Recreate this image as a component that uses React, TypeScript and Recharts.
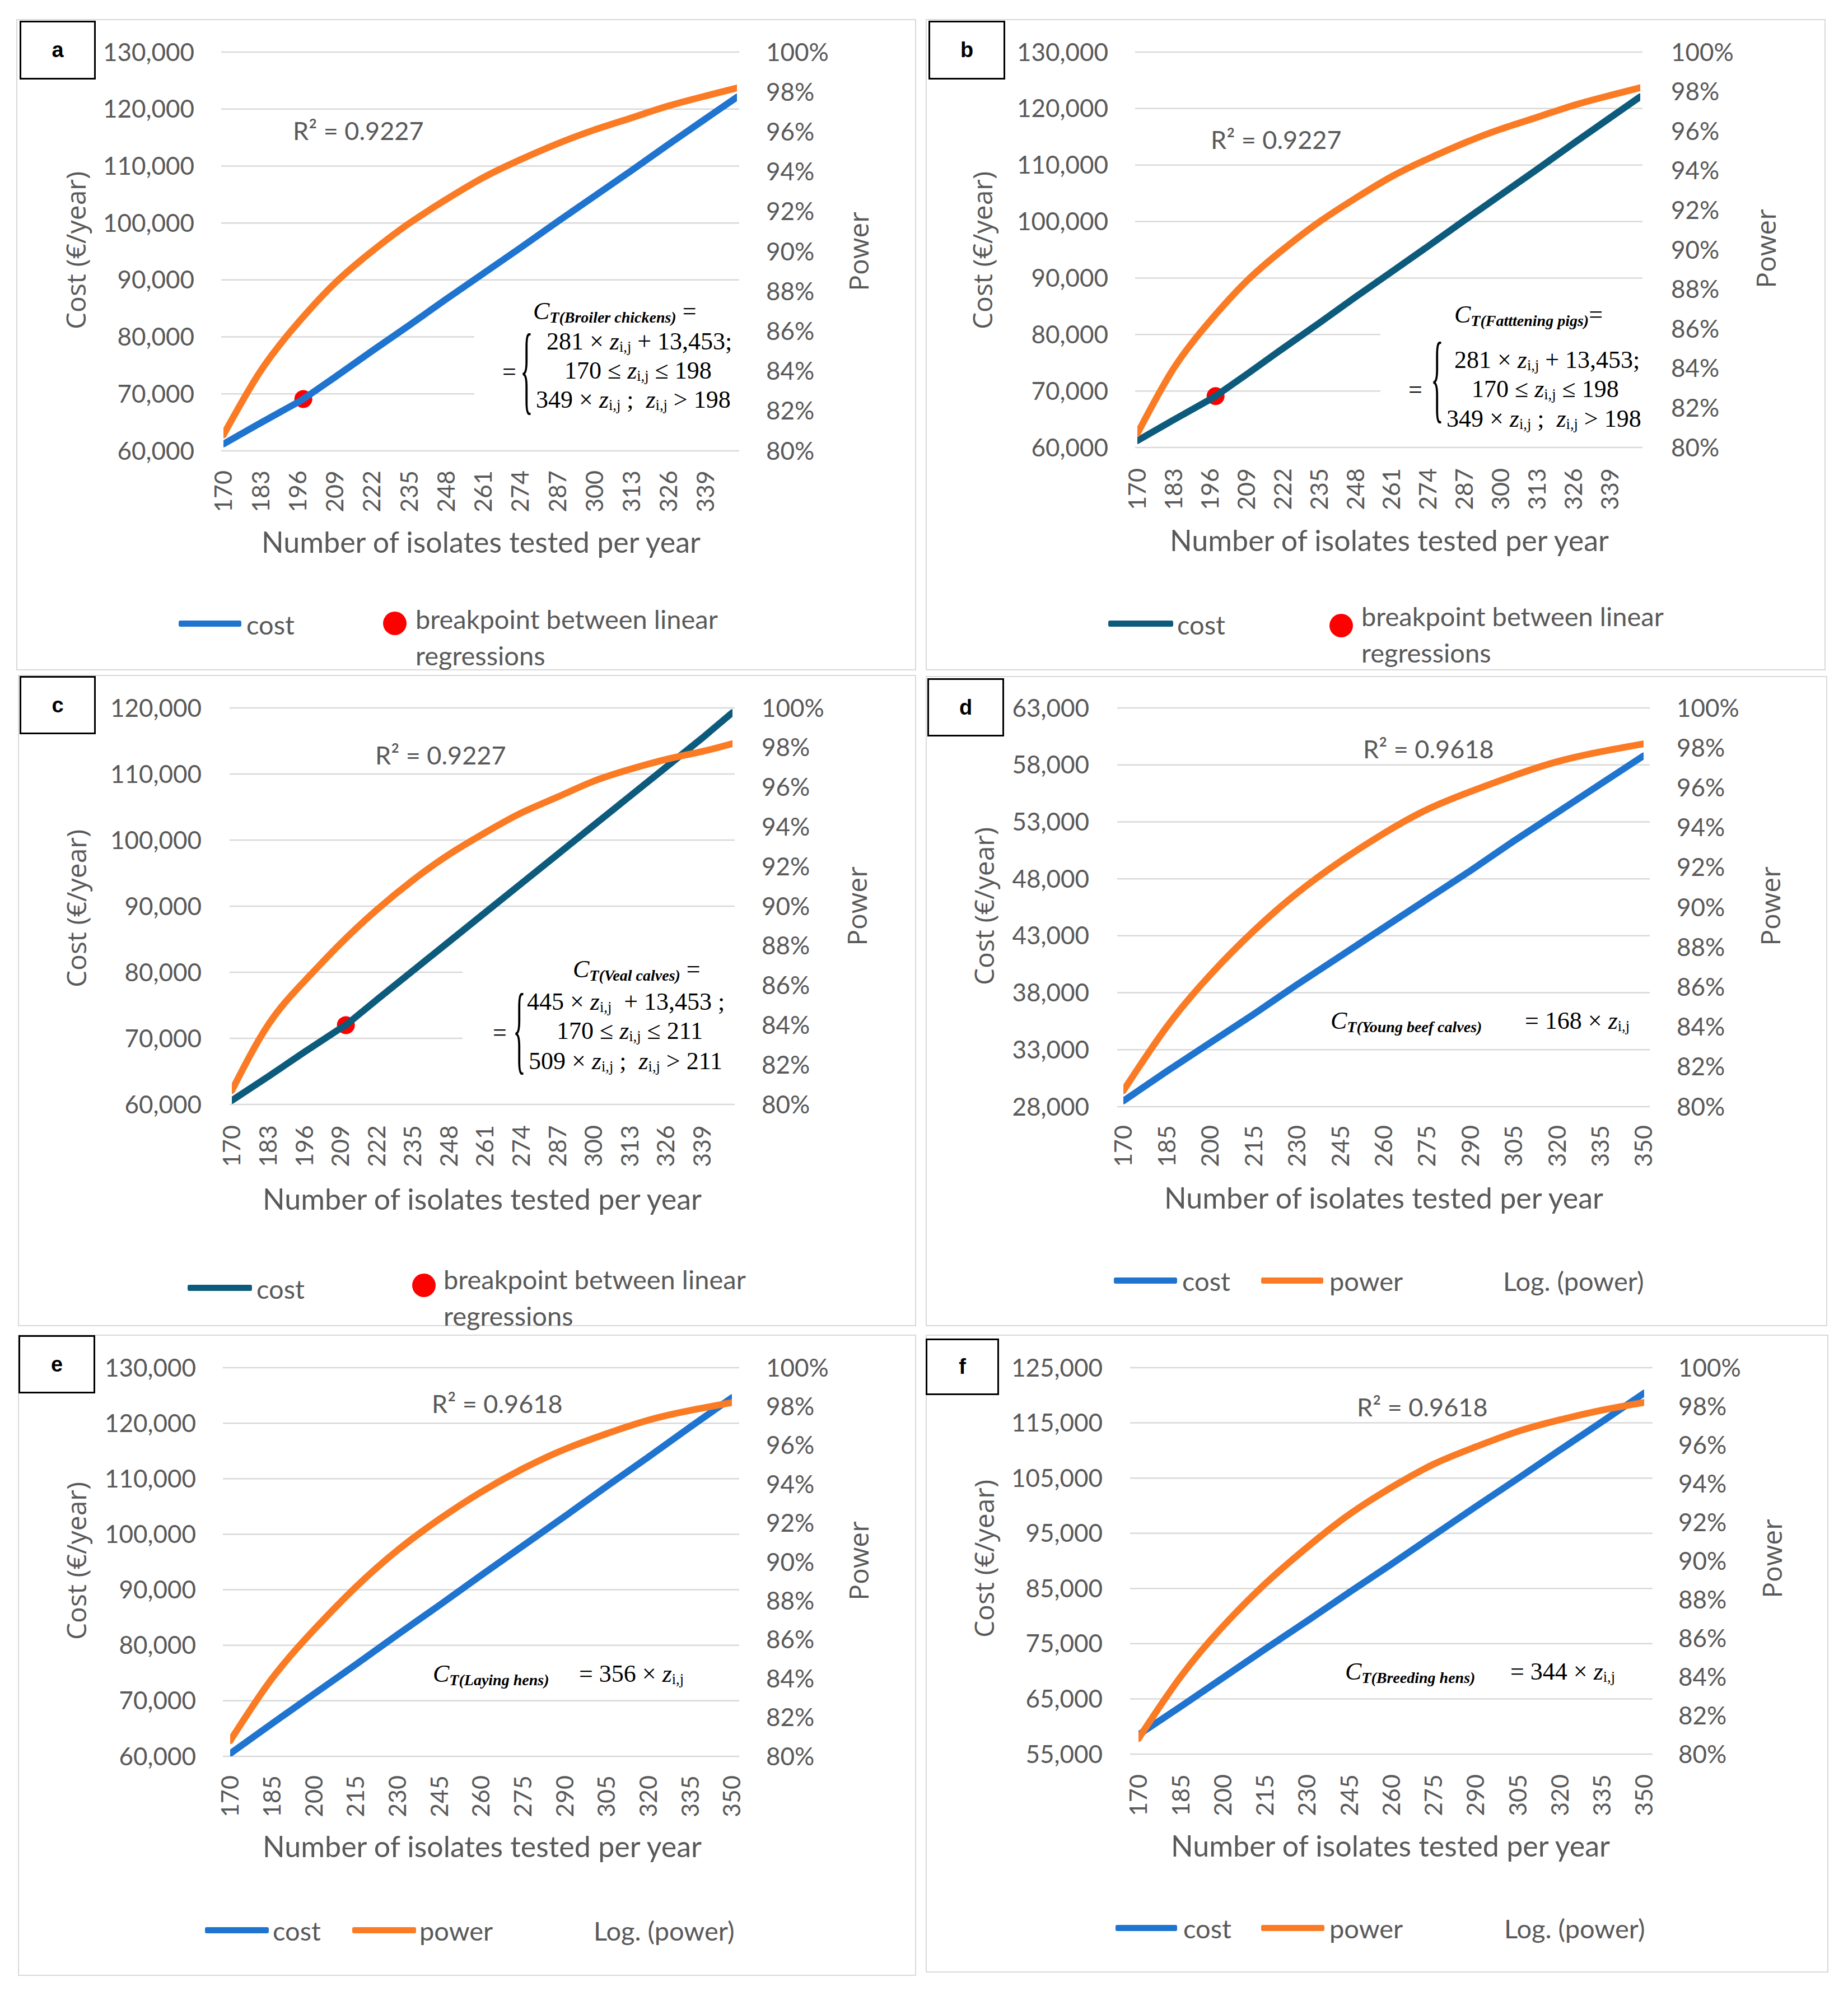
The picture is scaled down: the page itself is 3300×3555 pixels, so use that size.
import React from 'react';
import {
  ComposedChart,
  Line,
  Scatter,
  XAxis,
  YAxis,
  CartesianGrid,
  Legend,
  Label,
} from 'recharts';

// ---------------- data ----------------
const X_TICKS_13 = [170, 183, 196, 209, 222, 235, 248, 261, 274, 287, 300, 313, 326, 339];
const X_TICKS_15 = [170, 185, 200, 215, 230, 245, 260, 275, 290, 305, 320, 335, 350];
const SAMPLE_13 = [170, 183, 196, 209, 222, 235, 248, 261, 274, 287, 300, 313, 326, 339, 350];
const SAMPLE_15 = [170, 185, 200, 215, 230, 245, 260, 275, 290, 305, 320, 335, 350];
const POWER_TICKS = [80, 82, 84, 86, 88, 90, 92, 94, 96, 98, 100];

const COST_TICKS_AB = [60000, 70000, 80000, 90000, 100000, 110000, 120000, 130000];
const COST_TICKS_C = [60000, 70000, 80000, 90000, 100000, 110000, 120000];
const COST_TICKS_D = [28000, 33000, 38000, 43000, 48000, 53000, 58000, 63000];
const COST_TICKS_E = [60000, 70000, 80000, 90000, 100000, 110000, 120000, 130000];
const COST_TICKS_F = [55000, 65000, 75000, 85000, 95000, 105000, 115000, 125000];

// panel a (broiler chickens) and b (fattening pigs)
const COST_X_AB = [170, 183, 196, 198, 209, 222, 235, 248, 261, 274, 287, 300, 313, 326, 339, 350];
const COST_A = [61200, 64900, 68500, 69100, 72900, 77500, 82000, 86600, 91100, 95600, 100200, 104700, 109200, 113800, 118300, 122100];
const POWER_A = [80.8, 84.0, 86.4, 88.4, 90.0, 91.4, 92.6, 93.7, 94.6, 95.4, 96.1, 96.7, 97.3, 97.8, 98.2];
const COST_B = [61200, 64900, 68500, 69100, 72900, 77500, 82000, 86600, 91100, 95600, 100200, 104700, 109200, 113800, 118300, 122100];
const POWER_B = [80.7, 84.0, 86.4, 88.4, 90.0, 91.4, 92.6, 93.7, 94.6, 95.4, 96.1, 96.7, 97.3, 97.8, 98.2];
const BREAK_N_AB = 198;
const BREAK_COST_AB = 69100;

// panel c (veal calves)
const COST_X_C = [170, 183, 196, 209, 211, 222, 235, 248, 261, 274, 287, 300, 313, 326, 339, 350];
const COST_C = [60600, 64200, 67900, 71500, 72000, 75800, 80200, 84600, 89000, 93400, 97800, 102200, 106600, 111000, 115400, 119300];
const POWER_C = [80.7, 84.0, 86.2, 88.1, 89.8, 91.3, 92.6, 93.7, 94.7, 95.5, 96.3, 96.9, 97.4, 97.8, 98.2];
const BREAK_N_C = 211;
const BREAK_COST_C = 72000;

// panel d (young beef calves)
const COST_D = [28500, 31100, 33600, 36100, 38700, 41200, 43700, 46200, 48700, 51300, 53800, 56300, 58800];
const POWER_D = [80.8, 84.0, 86.6, 88.8, 90.7, 92.3, 93.7, 94.9, 95.8, 96.6, 97.3, 97.8, 98.2];

// panel e (laying hens)
const COST_E = [60500, 65900, 71200, 76500, 81900, 87200, 92600, 97900, 103200, 108600, 113900, 119300, 124600];
const POWER_E = [80.8, 84.0, 86.5, 88.7, 90.6, 92.2, 93.6, 94.8, 95.8, 96.6, 97.3, 97.8, 98.2];

// panel f (breeding hens)
const COST_F = [58500, 63600, 68800, 74000, 79100, 84300, 89400, 94600, 99800, 104900, 110100, 115200, 120400];
const POWER_F = [80.8, 84.0, 86.6, 88.8, 90.7, 92.4, 93.8, 95.0, 95.9, 96.7, 97.3, 97.8, 98.2];

// ---------------- style ----------------
const BLUE = '#1f74cf';
const TEAL = '#0d5b7c';
const ORANGE = '#fb7b24';
const RED = '#ff0000';
const GRID = '#d9d9d9';
const TXT = '#595959';
const LATO = "Lato, 'Liberation Sans', sans-serif";
const OPEN = "'Open Sans', 'DejaVu Sans', sans-serif";
const SERIF = "'Liberation Serif', 'DejaVu Serif', serif";
const ARIAL = "'Liberation Sans', Arial, sans-serif";
const FSZ = 44; // formula font size

const fmtCost = (v: number) => v.toLocaleString('en-US');
const fmtPct = (v: number) => `${v}%`;

const XTick = (props: any) => {
  const { x, y, payload } = props;
  return (
    <text
      x={x}
      y={y}
      transform={`rotate(-90 ${x} ${y})`}
      textAnchor="end"
      dy="0.36em"
      fill={TXT}
      fontSize={43}
      fontFamily={LATO}
    >
      {payload.value}
    </text>
  );
};

const VTitle = ({ cx, cy, text }: any) => (
  <text
    x={cx}
    y={cy}
    transform={`rotate(-90 ${cx} ${cy})`}
    textAnchor="middle"
    dy="0.36em"
    fill={TXT}
    fontSize={48}
    fontFamily={OPEN}
  >
    {text}
  </text>
);

const HTitle = ({ cx, cy, text }: any) => (
  <text x={cx} y={cy} textAnchor="middle" dy="0.36em" fill={TXT} fontSize={52} fontFamily={LATO}>
    {text}
  </text>
);

const RedDot = (props: any) => <circle cx={props.cx} cy={props.cy} r={16} fill={RED} />;

const Txt = ({ x, cy, size, family = LATO, color = TXT, children, style }: any) => (
  <div
    style={{
      position: 'absolute',
      left: x,
      top: cy,
      transform: 'translateY(-50%)',
      fontSize: size,
      fontFamily: family,
      color,
      lineHeight: 1,
      whiteSpace: 'nowrap',
      ...style,
    }}
  >
    {children}
  </div>
);

const Z = () => (
  <>
    <i>z</i>
    <span style={{ fontSize: '0.6em', position: 'relative', top: 4 }}>i,j</span>
  </>
);

const CT = ({ sub }: any) => (
  <>
    <i>C</i>
    <span style={{ fontSize: 28, fontWeight: 700, fontStyle: 'italic', position: 'relative', top: 6 }}>
      {sub}
    </span>
  </>
);

// ---------------- legend ----------------
const LegendLayer = ({ items }: any) => (
  <div style={{ position: 'relative', width: '100%', height: '100%' }}>
    {items.map((it: any, i: number) => {
      if (it.kind === 'line') {
        return (
          <div
            key={i}
            style={{
              position: 'absolute',
              left: it.x1,
              top: it.y - 5.5,
              width: it.x2 - it.x1,
              height: 11,
              background: it.color,
              borderRadius: 3,
            }}
          />
        );
      }
      if (it.kind === 'dot') {
        return (
          <div
            key={i}
            style={{
              position: 'absolute',
              left: it.cx - it.r,
              top: it.cy - it.r,
              width: it.r * 2,
              height: it.r * 2,
              borderRadius: '50%',
              background: RED,
            }}
          />
        );
      }
      return (
        <Txt key={i} x={it.x} cy={it.cy} size={47}>
          {it.text}
        </Txt>
      );
    })}
  </div>
);

// ---------------- panel ----------------
function Panel(p: any) {
  const g = p.geo;
  const costRows = p.costX.map((n: number, i: number) => ({ n, cost: p.cost[i] }));
  const powerRows = p.powerX.map((n: number, i: number) => ({ n, power: p.power[i] }));
  const bpRows = p.breakN != null ? [{ n: p.breakN, cost: p.breakCost }] : [];
  return (
    <div
      style={{
        position: 'absolute',
        left: g.left,
        top: g.top,
        width: g.w,
        height: g.h,
        outline: `2px solid ${GRID}`,
        outlineOffset: -2,
        background: '#fff',
      }}
    >
      <ComposedChart width={g.w} height={g.h} margin={{ top: g.plotTop, right: 0, bottom: 0, left: 0 }}>
        <CartesianGrid yAxisId="cost" vertical={false} stroke={GRID} strokeWidth={2.5} />
        <XAxis
          dataKey="n"
          type="number"
          domain={[170, 350]}
          ticks={p.xTicks}
          interval={0}
          allowDataOverflow
          axisLine={false}
          tickLine={false}
          tickSize={0}
          tickMargin={g.xTickGap}
          height={g.h - g.plotBottom}
          padding={{ left: g.padX, right: g.padX }}
          tick={<XTick />}
        >
          <Label content={<HTitle cx={g.xTitle[0]} cy={g.xTitle[1]} text="Number of isolates tested per year" />} />
        </XAxis>
        <YAxis
          yAxisId="cost"
          orientation="left"
          type="number"
          domain={p.costDomain}
          ticks={p.costTicks}
          interval={0}
          allowDataOverflow
          width={g.plotLeft}
          axisLine={false}
          tickLine={false}
          tickSize={0}
          tickMargin={g.yGapL}
          tickFormatter={fmtCost}
          tick={{ fill: TXT, fontSize: 44, fontFamily: LATO }}
        >
          <Label content={<VTitle cx={g.costTitle[0]} cy={g.costTitle[1]} text="Cost (€/year)" />} />
        </YAxis>
        <YAxis
          yAxisId="power"
          orientation="right"
          type="number"
          domain={[80, 100]}
          ticks={POWER_TICKS}
          interval={0}
          allowDataOverflow
          width={g.w - g.plotRight}
          axisLine={false}
          tickLine={false}
          tickSize={0}
          tickMargin={g.yGapR}
          tickFormatter={fmtPct}
          tick={{ fill: TXT, fontSize: 44, fontFamily: LATO }}
        >
          <Label content={<VTitle cx={g.powerTitle[0]} cy={g.powerTitle[1]} text="Power" />} />
        </YAxis>
        {bpRows.length > 0 && (
          <Scatter
            yAxisId="cost"
            data={bpRows}
            dataKey="cost"
            fill={RED}
            shape={RedDot}
            legendType="none"
            zIndex={350}
            isAnimationActive={false}
          />
        )}
        <Line
          yAxisId="cost"
          data={costRows}
          dataKey="cost"
          type="linear"
          stroke={p.costColor}
          strokeWidth={12}
          strokeLinecap="round"
          dot={false}
          activeDot={false}
          legendType="none"
          isAnimationActive={false}
        />
        <Line
          yAxisId="power"
          data={powerRows}
          dataKey="power"
          type="natural"
          stroke={ORANGE}
          strokeWidth={12}
          strokeLinecap="round"
          dot={false}
          activeDot={false}
          legendType="none"
          isAnimationActive={false}
        />
        <Legend
          layout="horizontal"
          verticalAlign="middle"
          align="center"
          wrapperStyle={{ left: 0, top: 0, width: g.w, height: g.h, pointerEvents: 'none' }}
          content={() => <LegendLayer items={p.legend} />}
        />
      </ComposedChart>

      {/* panel letter box */}
      <div
        style={{
          position: 'absolute',
          left: g.box[0],
          top: g.box[1],
          width: g.box[2],
          height: g.box[3],
          border: '3px solid #000',
          boxSizing: 'border-box',
          background: '#fff',
          display: 'flex',
          alignItems: 'center',
          justifyContent: 'center',
          fontFamily: ARIAL,
          fontWeight: 700,
          fontSize: 38,
          color: '#000',
        }}
      >
        {p.letter}
      </div>

      {/* R squared */}
      <Txt x={g.r2[0]} cy={g.r2[1]} size={45}>
        {p.r2}
      </Txt>

      {/* formula */}
      {p.mask && (
        <div
          style={{
            position: 'absolute',
            left: p.mask[0],
            top: p.mask[1],
            width: p.mask[2],
            height: p.mask[3],
            background: '#fff',
          }}
        />
      )}
      {p.formula}
    </div>
  );
}

// piecewise formula block (panels a, b, c)
const Piecewise = ({ f, head, l2, l3, l4 }: any) => (
  <>
    <Txt x={f.l1[0]} cy={f.l1[1]} size={FSZ} family={SERIF} color="#000">
      {head}
    </Txt>
    <Txt x={f.l2[0]} cy={f.l2[1]} size={FSZ} family={SERIF} color="#000">
      {l2}
    </Txt>
    <Txt x={f.l3[0]} cy={f.l3[1]} size={FSZ} family={SERIF} color="#000">
      {l3}
    </Txt>
    <Txt x={f.l4[0]} cy={f.l4[1]} size={FSZ} family={SERIF} color="#000">
      {l4}
    </Txt>
    <Txt x={f.eq[0]} cy={f.eq[1]} size={FSZ} family={SERIF} color="#000">
      =
    </Txt>
    <div
      style={{
        position: 'absolute',
        left: f.brace[0],
        top: f.brace[1] - 27,
        fontSize: 176,
        lineHeight: 1,
        fontFamily: SERIF,
        color: '#000',
        transform: 'scaleX(0.27)',
        transformOrigin: 'left top',
      }}
    >
      {'{'}
    </div>
  </>
);

const Simple = ({ c, sub, rest }: any) => (
  <>
    <Txt x={c[0]} cy={c[1]} size={FSZ} family={SERIF} color="#000">
      <CT sub={sub} />
    </Txt>
    <Txt x={c[2]} cy={c[1]} size={FSZ} family={SERIF} color="#000">
      {rest}
    </Txt>
  </>
);

const legendBreak = (lx1: number, lx2: number, ly: number, tx: number, dcx: number, dcy: number, bx: number, by1: number, by2: number) => [
  { kind: 'line', x1: lx1, x2: lx2, y: ly, color: '' },
  { kind: 'text', x: tx, cy: ly + 2, text: 'cost' },
  { kind: 'dot', cx: dcx, cy: dcy, r: 21 },
  { kind: 'text', x: bx, cy: by1, text: 'breakpoint between linear' },
  { kind: 'text', x: bx, cy: by2, text: 'regressions' },
];

const legendPower = (b1: number, b2: number, ct: number, o1: number, o2: number, pt: number, lg: number, y: number) => [
  { kind: 'line', x1: b1, x2: b2, y, color: BLUE },
  { kind: 'text', x: ct, cy: y + 1, text: 'cost' },
  { kind: 'line', x1: o1, x2: o2, y, color: ORANGE },
  { kind: 'text', x: pt, cy: y + 1, text: 'power' },
  { kind: 'text', x: lg, cy: y + 1, text: 'Log. (power)' },
];

const withColor = (items: any[], color: string) => items.map((it) => (it.kind === 'line' ? { ...it, color } : it));

export default function App() {
  const geoA = { left: 29, top: 34, w: 1607, h: 1163, plotLeft: 366, plotRight: 1291, plotTop: 59, plotBottom: 771, yGapL: 48, yGapR: 48, xTickGap: 35, padX: 4, costTitle: [107, 413], powerTitle: [1505, 415], xTitle: [830, 934], box: [6, 3, 136, 105], r2: [494, 199] };
  const geoB = { left: 1653, top: 34, w: 1607, h: 1163, plotLeft: 374, plotRight: 1280, plotTop: 59, plotBottom: 765, yGapL: 48, yGapR: 51, xTickGap: 37, padX: 4, costTitle: [102, 413], powerTitle: [1501, 410], xTitle: [828, 931], box: [5, 3, 137, 105], r2: [509, 215] };
  const geoC = { left: 32, top: 1205, w: 1604, h: 1163, plotLeft: 378, plotRight: 1280, plotTop: 59, plotBottom: 767, yGapL: 50, yGapR: 48, xTickGap: 37, padX: 4, costTitle: [105, 417], powerTitle: [1499, 413], xTitle: [829, 936], box: [3, 2, 136, 104], r2: [638, 143] };
  const geoD = { left: 1653, top: 1207, w: 1610, h: 1161, plotLeft: 342, plotRight: 1293, plotTop: 57, plotBottom: 769, yGapL: 50, yGapR: 48, xTickGap: 33, padX: 11, costTitle: [105, 411], powerTitle: [1509, 411], xTitle: [818, 932], box: [3, 4, 137, 104], r2: [781, 130] };
  const geoE = { left: 32, top: 2383, w: 1604, h: 1145, plotLeft: 366, plotRight: 1288, plotTop: 59, plotBottom: 753, yGapL: 48, yGapR: 48, xTickGap: 34, padX: 13, costTitle: [105, 404], powerTitle: [1502, 404], xTitle: [829, 914], box: [1, 1, 137, 104], r2: [739, 123] };
  const geoF = { left: 1653, top: 2383, w: 1612, h: 1139, plotLeft: 365, plotRight: 1298, plotTop: 59, plotBottom: 749, yGapL: 49, yGapR: 46, xTickGap: 36, padX: 15, costTitle: [105, 400], powerTitle: [1512, 400], xTitle: [830, 913], box: [0, 7, 131, 101], r2: [770, 129] };

  const formulaA = (
    <Piecewise
      f={{ l1: [923, 522], l2: [947, 576], l3: [979, 628], l4: [928, 680], eq: [868, 630], brace: [900, 563] }}
      head={<><CT sub="T(Broiler chickens)" /> =</>}
      l2={<>281 × <Z /> + 13,453;</>}
      l3={<>170 ≤ <Z /> ≤ 198</>}
      l4={<>349 × <Z /> ;&nbsp; <Z /> &gt; 198</>}
    />
  );
  const formulaB = (
    <Piecewise
      f={{ l1: [944, 528], l2: [944, 609], l3: [975, 661], l4: [930, 714], eq: [862, 662], brace: [902, 578] }}
      head={<><CT sub="T(Fatttening pigs)" />=</>}
      l2={<>281 × <Z /> + 13,453;</>}
      l3={<>170 ≤ <Z /> ≤ 198</>}
      l4={<>349 × <Z /> ;&nbsp; <Z /> &gt; 198</>}
    />
  );
  const formulaC = (
    <Piecewise
      f={{ l1: [991, 526], l2: [909, 584], l3: [962, 636], l4: [912, 690], eq: [848, 639], brace: [884, 570] }}
      head={<><CT sub="T(Veal calves)" /> =</>}
      l2={<>445 × <Z /> &nbsp;+ 13,453 ;</>}
      l3={<>170 ≤ <Z /> ≤ 211</>}
      l4={<>509 × <Z /> ;&nbsp; <Z /> &gt; 211</>}
    />
  );

  return (
    <div style={{ position: 'absolute', left: 0, top: 0, width: 3300, height: 3555, background: '#fff', overflow: 'hidden' }}>
      <Panel
        letter="a"
        geo={geoA}
        xTicks={X_TICKS_13}
        costX={COST_X_AB}
        cost={COST_A}
        powerX={SAMPLE_13}
        power={POWER_A}
        breakN={BREAK_N_AB}
        breakCost={BREAK_COST_AB}
        costDomain={[60000, 130000]}
        costTicks={COST_TICKS_AB}
        costColor={BLUE}
        r2="R² = 0.9227"
        mask={[818, 495, 473, 240]}
        formula={formulaA}
        legend={withColor(legendBreak(290, 402, 1079, 411, 676, 1079, 713, 1071, 1136), BLUE)}
      />
      <Panel
        letter="b"
        geo={geoB}
        xTicks={X_TICKS_13}
        costX={COST_X_AB}
        cost={COST_B}
        powerX={SAMPLE_13}
        power={POWER_B}
        breakN={BREAK_N_AB}
        breakCost={BREAK_COST_AB}
        costDomain={[60000, 130000]}
        costTicks={COST_TICKS_AB}
        costColor={TEAL}
        r2="R² = 0.9227"
        mask={[812, 500, 468, 250]}
        formula={formulaB}
        legend={withColor(legendBreak(326, 442, 1079, 449, 742, 1083, 778, 1066, 1131), TEAL)}
      />
      <Panel
        letter="c"
        geo={geoC}
        xTicks={X_TICKS_13}
        costX={COST_X_C}
        cost={COST_C}
        powerX={SAMPLE_13}
        power={POWER_C}
        breakN={BREAK_N_C}
        breakCost={BREAK_COST_C}
        costDomain={[60000, 120000]}
        costTicks={COST_TICKS_C}
        costColor={TEAL}
        r2="R² = 0.9227"
        mask={[794, 500, 486, 235]}
        formula={formulaC}
        legend={withColor(legendBreak(303, 418, 1094, 426, 725, 1090, 760, 1079, 1144), TEAL)}
      />
      <Panel
        letter="d"
        geo={geoD}
        xTicks={X_TICKS_15}
        costX={SAMPLE_15}
        cost={COST_D}
        powerX={SAMPLE_15}
        power={POWER_D}
        costDomain={[28000, 63000]}
        costTicks={COST_TICKS_D}
        costColor={BLUE}
        r2="R² = 0.9618"
        formula={<Simple c={[723, 616, 1070]} sub="T(Young beef calves)" rest={<>= 168 × <Z /></>} />}
        legend={legendPower(336, 449, 458, 599, 710, 721, 1031, 1079)}
      />
      <Panel
        letter="e"
        geo={geoE}
        xTicks={X_TICKS_15}
        costX={SAMPLE_15}
        cost={COST_E}
        powerX={SAMPLE_15}
        power={POWER_E}
        costDomain={[60000, 130000]}
        costTicks={COST_TICKS_E}
        costColor={BLUE}
        r2="R² = 0.9618"
        formula={<Simple c={[741, 606, 1002]} sub="T(Laying hens)" rest={<>= 356 × <Z /></>} />}
        legend={legendPower(334, 448, 455, 597, 711, 717, 1028, 1063)}
      />
      <Panel
        letter="f"
        geo={geoF}
        xTicks={X_TICKS_15}
        costX={SAMPLE_15}
        cost={COST_F}
        powerX={SAMPLE_15}
        power={POWER_F}
        costDomain={[55000, 125000]}
        costTicks={COST_TICKS_F}
        costColor={BLUE}
        r2="R² = 0.9618"
        formula={<Simple c={[749, 602, 1044]} sub="T(Breeding hens)" rest={<>= 344 × <Z /></>} />}
        legend={legendPower(339, 449, 460, 599, 712, 721, 1033, 1059)}
      />
    </div>
  );
}
